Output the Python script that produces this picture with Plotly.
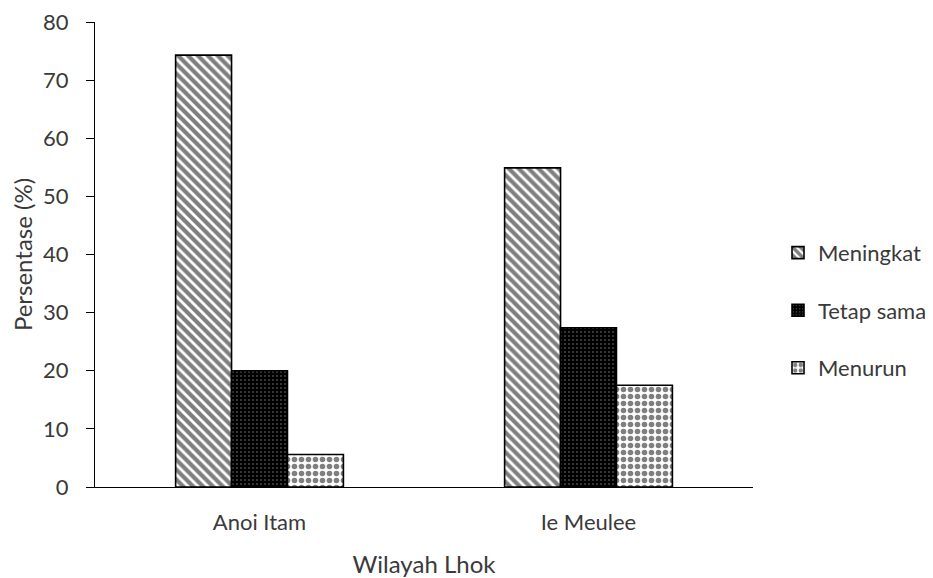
import plotly.graph_objects as go

categories = ["Anoi Itam", "Ie Meulee"]
series_names = ["Meningkat", "Tetap sama", "Menurun"]
meningkat = [74.3, 54.9]
tetap_sama = [20.0, 27.4]
menurun = [5.6, 17.5]
y_ticks = [0, 10, 20, 30, 40, 50, 60, 70, 80]

values = [meningkat, tetap_sama, menurun]
patterns = [
    dict(shape="\\", fgcolor="black", bgcolor="white", size=7, solidity=0.6),
    dict(shape=".", fgcolor="white", bgcolor="black", size=4, solidity=0.12),
    dict(shape=".", fgcolor="black", bgcolor="white", size=7, solidity=0.5),
]

fig = go.Figure()
for i, (name, vals) in enumerate(zip(series_names, values)):
    fig.add_trace(go.Bar(
        x=categories, y=vals, name=name, legendgroup=name,
        marker=dict(color="white", pattern=patterns[i],
                    line=dict(color="black", width=1.6)),
    ))

txt = "#3a3a3a"
fam = "Lato, Open Sans, sans-serif"
fig.update_layout(
    width=925, height=570,
    margin=dict(l=87, r=180, t=14, b=91, autoexpand=False),
    paper_bgcolor="white", plot_bgcolor="white",
    barmode="group", bargap=0.49, bargroupgap=0,
    font=dict(family=fam, color=txt, size=22),
    legend=dict(x=1.038, xanchor="left", y=0.38, yanchor="middle",
                font=dict(size=22, color=txt), tracegroupgap=26,
                itemwidth=30),
    showlegend=True,
)
fig.update_xaxes(showline=True, linecolor="black", linewidth=1.2, ticks="",
                 automargin=False, ticklabelstandoff=15, ticklabeloverflow="allow",
                 title=dict(text="Wilayah Lhok", standoff=27, font=dict(size=24)),
                 tickfont=dict(size=22))
fig.update_yaxes(range=[0, 80], tickvals=y_ticks, showline=True, linecolor="black",
                 linewidth=1.2, ticks="outside", ticklen=8, tickcolor="black",
                 showgrid=False, zeroline=False, automargin=False,
                 ticklabelstandoff=13, ticklabeloverflow="allow",
                 title=dict(text="Persentase (%)", standoff=10, font=dict(size=24)),
                 tickfont=dict(size=22))

fig.write_html("out.html")
